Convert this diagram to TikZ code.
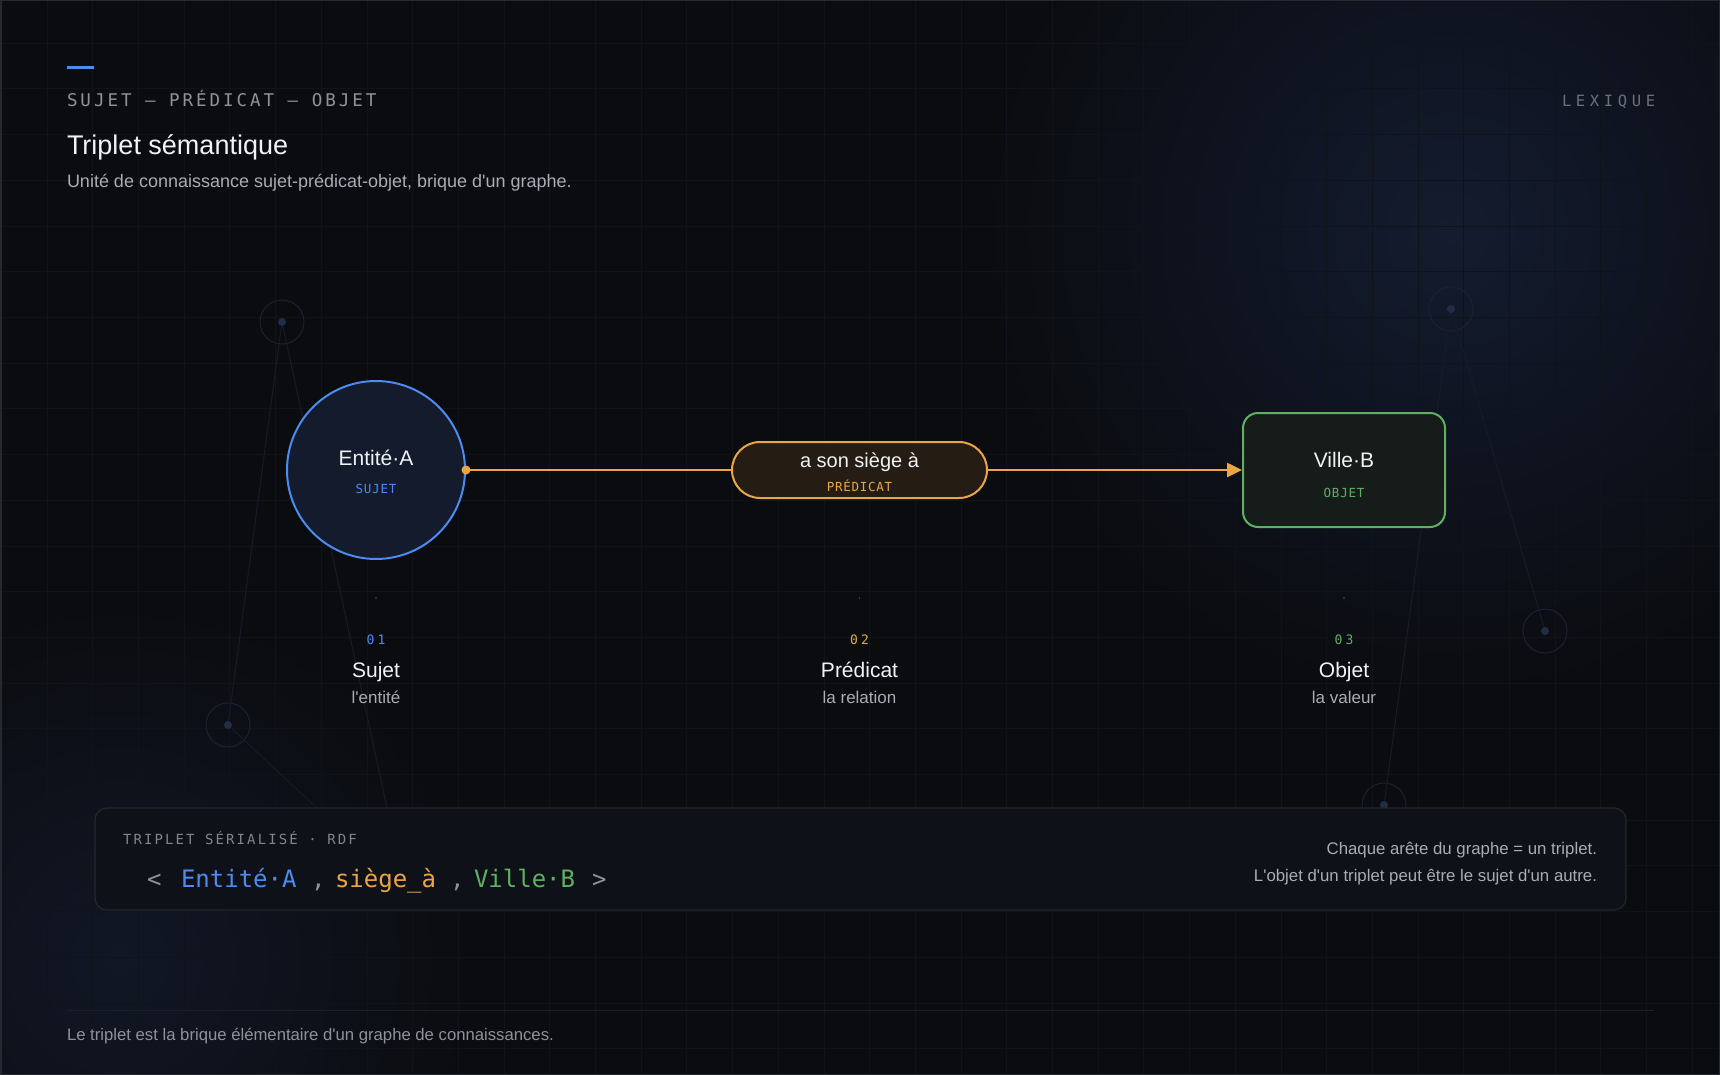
\documentclass[tikz,border=0pt]{standalone}
\usepackage{fontspec}
\newfontfamily\sansfont{Liberation Sans}
\newfontfamily\monofont{DejaVu Sans Mono}
\newfontfamily\monoentete{DejaVu Sans Mono}[LetterSpace=17]
\newfontfamily\monolarge{DejaVu Sans Mono}[LetterSpace=30]
\newfontfamily\monoserie{DejaVu Sans Mono}[LetterSpace=15]
\newfontfamily\monotag{DejaVu Sans Mono}[LetterSpace=6]
\newfontfamily\mononum{DejaVu Sans Mono}[LetterSpace=25]
\usetikzlibrary{arrows.meta}

\definecolor{fond}{HTML}{0B0C10}
\definecolor{grille}{HTML}{101319}
\definecolor{cadre}{HTML}{262930}
\definecolor{lueurA}{HTML}{141C2F}
\definecolor{lueurB}{HTML}{0F1421}
\definecolor{lueurC}{HTML}{111725}
\definecolor{bleu}{HTML}{4D8BF0}
\definecolor{ambre}{HTML}{EAA547}
\definecolor{vert}{HTML}{5FB062}
\definecolor{blanc}{HTML}{F1F2F5}
\definecolor{grisclair}{HTML}{A9ACB4}
\definecolor{gris}{HTML}{8E929B}
\definecolor{grisfonce}{HTML}{6C7079}
\definecolor{fondsujet}{HTML}{131B2D}
\definecolor{fondpred}{HTML}{251D14}
\definecolor{fondobjet}{HTML}{161C19}
\definecolor{fondcode}{HTML}{0F1118}
\definecolor{bordcode}{HTML}{23272F}
\definecolor{deco}{HTML}{1A2131}
\definecolor{decotrait}{HTML}{151B28}
\definecolor{decopoint}{HTML}{1F2D49}
\definecolor{filet}{HTML}{1C1F27}

\pgfdeclareradialshading{lueurhaut}{\pgfpoint{0bp}{0bp}}{color(0bp)=(lueurA); color(11bp)=(lueurB); color(25bp)=(fond); color(50bp)=(fond)}
\pgfdeclareradialshading{lueurbas}{\pgfpoint{0bp}{0bp}}{color(0bp)=(lueurC); color(25bp)=(fond); color(50bp)=(fond)}

\begin{document}
\begin{tikzpicture}[x=1pt,y=-1pt,
    txt/.style={inner sep=0pt, outer sep=0pt, anchor=base west},
    ctxt/.style={inner sep=0pt, outer sep=0pt, anchor=base},
    gridline/.style={draw=grille, line width=1pt},
    decor/.style={circle, draw=deco, line width=1pt, minimum size=44pt, inner sep=0pt},
    decoline/.style={draw=decotrait, line width=1pt},
    lien/.style={draw=ambre, line width=2.5pt},
    noeudtxt/.style={ctxt, font=\sansfont\fontsize{21}{24}\selectfont, text=blanc},
    tag/.style={ctxt, font=\monotag\fontsize{12.5}{15}\selectfont},
    num/.style={ctxt, font=\mononum\fontsize{13}{15}\selectfont},
    role/.style={ctxt, font=\sansfont\fontsize{21}{24}\selectfont, text=blanc},
    rolesub/.style={ctxt, font=\sansfont\fontsize{17}{20}\selectfont, text=grisclair},
    code/.style={txt, font=\monofont\fontsize{24}{28}\selectfont},
    note/.style={inner sep=0pt, outer sep=0pt, anchor=base east, font=\sansfont\fontsize{16.8}{20}\selectfont, text=grisclair}]
    \useasboundingbox (0,0) rectangle (1720,1075);

    % fond, lueurs et grille
    \fill[fond] (0,0) rectangle (1720,1075);
    \begin{scope}
        \clip (0,0) rectangle (1720,1075);
        \shade[shading=lueurhaut] (1450,230) circle (470);
        \shade[shading=lueurbas] (120,960) circle (360);
        \draw[gridline, step=45.7pt, xshift=1.4pt, yshift=2.4pt] (-46,-46) grid (1766,1121);
    \end{scope}

    % reseau decoratif
    \node[decor] (d1) at (282,322) {};
    \node[decor] (d2) at (228,725) {};
    \node[decor] (d3) at (1451,309) {};
    \node[decor] (d4) at (1545,631) {};
    \node[decor] (d5) at (1384,805) {};
    \coordinate (e1) at (387,808);
    \coordinate (e2) at (317,808);
    \draw[decoline] (d1.center) -- (d2.center);
    \draw[decoline] (d1.center) -- (e1);
    \draw[decoline] (d2.center) -- (e2);
    \draw[decoline] (d3.center) -- (d4.center);
    \draw[decoline] (d3.center) -- (d5.center);
    \fill[decopoint] (d1) circle (4);
    \fill[decopoint] (d2) circle (4);
    \fill[decopoint] (d3) circle (4);
    \fill[decopoint] (d4) circle (4);
    \fill[decopoint] (d5) circle (4);

    % en-tete
    \draw[bleu, line width=3pt] (67,68) -- (94,68);
    \node[txt, font=\monoentete\fontsize{17.5}{20}\selectfont, text=gris] (entete) at (67,107) {SUJET — PRÉDICAT — OBJET};
    \node[txt, font=\monolarge\fontsize{15.5}{18}\selectfont, text=grisfonce] (lexique) at (1562,107) {LEXIQUE};
    \node[txt, font=\sansfont\fontsize{27}{31}\selectfont, text=blanc] (titre) at (67,155) {Triplet sémantique};
    \node[txt, font=\sansfont\fontsize{18}{21}\selectfont, text=grisclair] (soustitre) at (67,188) {Unité de connaissance sujet-prédicat-objet, brique d'un graphe.};

    % le triplet
    \node[circle, draw=bleu, fill=fondsujet, line width=2pt, minimum size=178pt, inner sep=0pt] (sujet) at (376,470) {};
    \node[rectangle, rounded corners=28pt, draw=ambre, fill=fondpred, line width=2pt, minimum width=255pt, minimum height=56pt] (pred) at (859.5,470) {};
    \node[rectangle, rounded corners=15pt, draw=vert, fill=fondobjet, line width=2pt, minimum width=202pt, minimum height=114pt] (objet) at (1344,470) {};

    \draw[lien] (sujet.east) -- (pred.west);
    \draw[lien, -{Triangle[length=15pt,width=14pt]}] (pred.east) -- (objet.west);
    \fill[ambre] (sujet.east) circle (4.5);

    \node[noeudtxt] (nomA) at (376,465) {Entité·A};
    \node[tag, text=bleu] (tagA) at (376,493) {SUJET};
    \node[noeudtxt, font=\sansfont\fontsize{20}{24}\selectfont] (nomP) at (859.5,467) {a son siège à};
    \node[tag, text=ambre] (tagP) at (859.5,491) {PRÉDICAT};
    \node[noeudtxt] (nomB) at (1344,467) {Ville·B};
    \node[tag, text=vert] (tagB) at (1344,497) {OBJET};

    % legendes
    \fill[grisfonce!60!fond] (376,598) circle (0.9);
    \fill[grisfonce!60!fond] (859.5,598) circle (0.9);
    \fill[grisfonce!60!fond] (1344,598) circle (0.9);
    \node[num, text=bleu] (num1) at (376,644) {01};
    \node[num, text=ambre] (num2) at (859.5,644) {02};
    \node[num, text=vert] (num3) at (1344,644) {03};
    \node[role] (role1) at (376,677) {Sujet};
    \node[role] (role2) at (859.5,677) {Prédicat};
    \node[role] (role3) at (1344,677) {Objet};
    \node[rolesub] (sous1) at (376,703) {l'entité};
    \node[rolesub] (sous2) at (859.5,703) {la relation};
    \node[rolesub] (sous3) at (1344,703) {la valeur};

    % triplet serialise
    \node[rectangle, rounded corners=12pt, draw=bordcode, fill=fondcode, line width=1.2pt, minimum width=1531pt, minimum height=102pt] (rdf) at (860.5,859) {};
    \node[txt, font=\monoserie\fontsize{14}{17}\selectfont, text=grisfonce!85!white] (rdflbl) at (123,844) {TRIPLET SÉRIALISÉ · RDF};
    \node[code, text=gris] (chevA) at (147,887) {<};
    \node[code, text=bleu] (codeA) at (181,887) {Entité·A};
    \node[code, text=gris] (virg1) at (311,887) {,};
    \node[code, text=ambre] (codeP) at (335,887) {siège\_à};
    \node[code, text=gris] (virg2) at (450,887) {,};
    \node[code, text=vert] (codeB) at (474,887) {Ville·B};
    \node[code, text=gris] (chevB) at (592,887) {>};
    \node[note] (note1) at (1597,854) {Chaque arête du graphe = un triplet.};
    \node[note] (note2) at (1597,881) {L'objet d'un triplet peut être le sujet d'un autre.};

    % pied de page
    \draw[filet, line width=1pt] (67,1010) -- (1654,1010);
    \node[txt, font=\sansfont\fontsize{16.7}{19}\selectfont, text=gris] (pied) at (67,1040) {Le triplet est la brique élémentaire d'un graphe de connaissances.};

    \draw[cadre, line width=1.5pt] (0.75,0.75) rectangle (1719.25,1074.25);
\end{tikzpicture}
\end{document}
